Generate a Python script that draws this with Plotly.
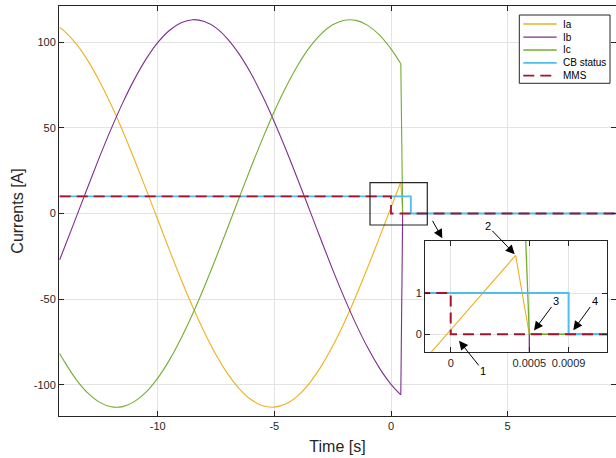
import plotly.graph_objects as go

# ---------------- data ----------------
series_names = ["Ia", "Ib", "Ic", "CB status", "MMS"]

time_main = [-14.2, -14.0, -13.5, -13.0, -12.5, -12.0, -11.5, -11.0, -10.5, -10.0,
             -9.5, -9.0, -8.5, -8.0, -7.5, -7.0, -6.5, -6.0, -5.5, -5.0,
             -4.5, -4.0, -3.5, -3.0, -2.5, -2.0, -1.5, -1.0, -0.5, 0.0,
             0.42, 0.5, 9.7]
ia_main = [108.5, 106.3, 99.0, 89.3, 77.3, 63.5, 48.1, 31.5, 14.2, -3.5,
           -21.2, -38.3, -54.4, -69.3, -82.4, -93.5, -102.2, -108.5, -112.1, -112.9,
           -111.0, -106.3, -99.0, -89.3, -77.3, -63.5, -48.1, -31.5, -14.2, 3.5,
           18.4, 0.0, 0.0]
ib_main = [-27.0, -20.0, -2.4, 15.3, 32.7, 49.2, 64.5, 78.2, 90.0, 99.6,
           106.7, 111.2, 113.0, 111.9, 108.2, 101.7, 92.8, 81.6, 68.3, 53.4,
           37.2, 20.0, 2.4, -15.3, -32.7, -49.2, -64.5, -78.2, -90.0, -99.6,
           -105.7, 0.0, 0.0]
ic_main = [-81.6, -86.3, -96.7, -104.6, -110.0, -112.7, -112.6, -109.7, -104.2, -96.0,
           -85.5, -72.9, -58.5, -42.7, -25.8, -8.3, 9.5, 27.0, 43.8, 59.6,
           73.8, 86.3, 96.7, 104.6, 110.0, 112.7, 112.6, 109.7, 104.2, 96.0,
           87.3, 0.0, 0.0]
opening_index = 30  # index of the last sample before the currents are cut
cb_time_main = [-14.2, 0.85, 0.85, 9.7]
cb_main = [10, 10, 0, 0]
mms_time_main = [-14.2, 0.0, 0.0, 9.7]
mms_main = [10, 10, 0, 0]

# inset (zoomed view around the opening)
ia_time_inset = [-0.00016, 0.000413, 0.0005, 0.001]
ia_inset = [-0.59, 1.91, 0.0, 0.0]
ib_time_inset = [0.0005, 0.0005, 0.001]
ib_inset = [-1.0, 0.0, 0.0]
ic_time_inset = [0.000475, 0.0005, 0.001]
ic_inset = [2.5, 0.0, 0.0]
cb_time_inset = [-0.0002, 0.00075, 0.00075, 0.001]
cb_inset = [1, 1, 0, 0]
mms_time_inset = [-0.0002, 0.0, 0.0, 0.001]
mms_inset = [1, 1, 0, 0]

main_xtickvals = [-10, -5, 0, 5]
main_xticktext = ["-10", "-5", "0", "5"]
main_ytickvals = [-100, -50, 0, 50, 100]
main_yticktext = ["-100", "-50", "0", "50", "100"]
inset_xtickvals = [0, 0.0005, 0.00075]
inset_xticktext = ["0", "0.0005", "0.0009"]
inset_ytickvals = [0, 1]
inset_yticktext = ["0", "1"]

# ---------------- styling ----------------
colors = ["#EDB120", "#7E2F8E", "#77AC30", "#4DBEEE", "#A2142F"]
AX = "#262626"
GRID = "#e3e3e3"
FONT = "Liberation Sans, Arial, Helvetica, sans-serif"
W, H = 616, 458
ML, MR, MT, MB = 59, 0, 6, 42
PW, PH = W - ML - MR, H - MT - MB


def px_x(px):
    return (px - ML) / PW


def px_y(py):
    return (H - MB - py) / PH


fig = go.Figure()

k = opening_index
phase_currents = [ia_main, ib_main, ic_main]
# sinusoidal part (smooth) and the cut-off part (straight), same colour
for i, cur in enumerate(phase_currents):
    fig.add_trace(go.Scatter(
        x=time_main[:k + 1], y=cur[:k + 1], mode="lines", name=series_names[i],
        line=dict(color=colors[i], width=1.1, shape="spline", smoothing=1.0),
        showlegend=False, xaxis="x", yaxis="y"))
    fig.add_trace(go.Scatter(
        x=time_main[k:], y=cur[k:], mode="lines", name=series_names[i],
        line=dict(color=colors[i], width=1.1),
        showlegend=False, xaxis="x", yaxis="y"))

fig.add_trace(go.Scatter(x=cb_time_main, y=cb_main, mode="lines", name=series_names[3],
                         line=dict(color=colors[3], width=1.8),
                         showlegend=False, xaxis="x", yaxis="y"))
fig.add_trace(go.Scatter(x=mms_time_main, y=mms_main, mode="lines", name=series_names[4],
                         line=dict(color=colors[4], width=1.8, dash="11px,6px"),
                         showlegend=False, xaxis="x", yaxis="y"))

inset_series = [(ia_time_inset, ia_inset), (ib_time_inset, ib_inset),
                (ic_time_inset, ic_inset), (cb_time_inset, cb_inset),
                (mms_time_inset, mms_inset)]
inset_widths = [1.1, 1.3, 1.3, 2.0, 2.0]
for i, (xs, ys) in enumerate(inset_series):
    fig.add_trace(go.Scatter(
        x=xs, y=ys, mode="lines", name=series_names[i],
        line=dict(color=colors[i], width=inset_widths[i],
                  dash="11px,6px" if series_names[i] == "MMS" else "solid"),
        showlegend=False, xaxis="x2", yaxis="y2"))

axis_common = dict(showline=True, linecolor=AX, linewidth=1, mirror="ticks",
                   ticks="inside", ticklen=5, tickcolor=AX, tickwidth=1,
                   showgrid=True, gridcolor=GRID, gridwidth=1, zeroline=False,
                   automargin=False,
                   tickfont=dict(family=FONT, size=11, color=AX))

fig.update_layout(
    width=W, height=H,
    margin=dict(l=ML, r=MR, t=MT, b=MB),
    paper_bgcolor="white", plot_bgcolor="white",
    showlegend=False,
    font=dict(family=FONT, color=AX),
    xaxis=dict(domain=[0, 1], range=[-14.23, 9.644],
               tickvals=main_xtickvals, ticktext=main_xticktext,
               title=dict(text="Time [s]", font=dict(family=FONT, size=16, color=AX), standoff=9),
               **axis_common),
    yaxis=dict(domain=[0, 1], range=[-118.08, 120.99],
               tickvals=main_ytickvals, ticktext=main_yticktext,
               title=dict(text="Currents [A]", font=dict(family=FONT, size=16, color=AX), standoff=6),
               **axis_common),
    xaxis2=dict(domain=[px_x(425), px_x(607)], range=[-0.0001635, 0.0009942],
                anchor="y2", tickvals=inset_xtickvals, ticktext=inset_xticktext,
                **axis_common),
    yaxis2=dict(domain=[px_y(352.3), px_y(241)], range=[-0.436, 2.259],
                anchor="x2", tickvals=inset_ytickvals, ticktext=inset_yticktext,
                **axis_common),
)

# zoom box on the main axes and arrow to the inset
fig.add_shape(type="rect", xref="x", yref="y", x0=-0.90, x1=1.556, y0=-6.7, y1=17.96,
              line=dict(color=AX, width=1.2), layer="above")
fig.add_annotation(xref="x", yref="y", axref="x", ayref="y", x=2.2, y=-14.5,
                   ax=1.744, ay=-3.4, text="", showarrow=True, arrowhead=2,
                   arrowsize=1.8, arrowwidth=1, arrowcolor="black")

# numbered arrows in the inset
labels = [("1", 0.000053, -0.155, 0.000207, -0.89),
          ("2", 0.000407, 1.94, 0.000236, 2.62),
          ("3", 0.000530, 0.09, 0.000670, 0.81),
          ("4", 0.000780, 0.10, 0.000916, 0.81)]
for txt, hx, hy, tx, ty in labels:
    fig.add_annotation(xref="x2", yref="y2", axref="x2", ayref="y2",
                       x=hx, y=hy, ax=tx, ay=ty, text=txt, showarrow=True,
                       arrowhead=2, arrowsize=1.8, arrowwidth=1, arrowcolor="black",
                       font=dict(family=FONT, size=11, color="black"), standoff=0)

# legend (drawn to match the compact original box)
fig.add_shape(type="rect", xref="paper", yref="paper",
              x0=px_x(519.3), x1=px_x(610), y0=px_y(83.3), y1=px_y(15),
              line=dict(color=AX, width=1), fillcolor="white", layer="above")
leg_rows = [24, 37.2, 50, 62.8, 75.6]
for i, name in enumerate(series_names):
    yy = px_y(leg_rows[i])
    fig.add_shape(type="line", xref="paper", yref="paper",
                  x0=px_x(523.3), x1=px_x(556.7), y0=yy, y1=yy,
                  line=dict(color=colors[i], width=1.3 if i < 3 else 1.8,
                            dash="11px,6px" if name == "MMS" else "solid"),
                  layer="above")
    fig.add_annotation(xref="paper", yref="paper", x=px_x(561), y=yy, text=name,
                       showarrow=False, xanchor="left", yanchor="middle",
                       font=dict(family=FONT, size=10, color="black"))

fig.write_html("out.html", config={"displayModeBar": False},
               post_script="document.body.style.margin='0';")
